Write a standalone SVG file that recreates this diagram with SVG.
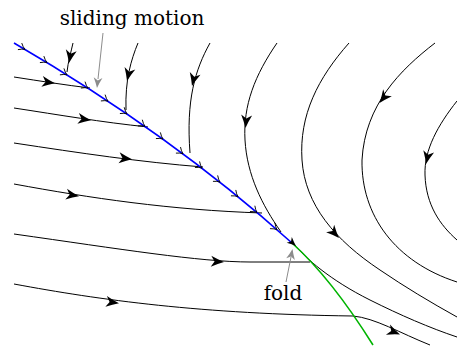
<svg xmlns="http://www.w3.org/2000/svg" width="457" height="349" viewBox="0 0 457 349">
<defs>
<path id="ah" d="M0,0 Q-6,-2 -13,-5.5 L-9.5,0 L-13,5.5 Q-6,2 0,0 Z"/>
<path id="sa" d="M-6,-3.8 Q-2.8,-0.9 0,0 Q-2.8,0.9 -6,3.8"/>
</defs>
<style>
.tr{fill:none;stroke:#000;stroke-width:1}
.sw{fill:none;stroke:#0000ff;stroke-width:1.6}
.gr{fill:none;stroke:#00b400;stroke-width:1.6}
.ptr{fill:none;stroke:#8c8c8c;stroke-width:1}
.ah{fill:#000}
.gah{fill:#8c8c8c}
.sa{fill:none;stroke:#000;stroke-width:0.85}
.lbl{font-family:"DejaVu Serif","Liberation Serif",serif;font-size:20px;fill:#000}
</style>
<rect width="457" height="349" fill="#fff"/>
<g id="connectors">
  <path class="tr" d="M14,77 C40,81 65,85 90,88"/>
  <path class="tr" d="M14,108 C60,115 100,122 148,127"/>
  <path class="tr" d="M14,143 C80,153 140,162 203,167"/>
  <path class="tr" d="M14,184 C90,198 170,210 262,213"/>
  <path class="tr" d="M14,234 C120,249 200,262 250,262 L310,262"/>
  <path class="tr" d="M14,284 C100,300 200,314 353,316 C375,318 400,333 430,345"/>
  <path class="tr" d="M73,43 C71,52 68,62 67,72"/>
  <path class="tr" d="M138,43 C131,60 125,80 126,110"/>
  <path class="tr" d="M210,43 C195,70 186,100 190,153"/>
  <path class="tr" d="M277,43 C255,75 243,105 245,140 C247,175 262,205 281,232"/>
  <path class="tr" d="M349,43 C318,78 299,115 302,160 C305,205 335,240 380,270 C405,287 430,302 457,317"/>
  <path class="tr" d="M435,43 C400,70 365,105 362,160 C361,215 395,262 457,282"/>
  <path class="tr" d="M457,101 C438,125 424,150 425,175 C426,205 440,225 457,240"/>
  <path class="tr" d="M293,243 C305,258 330,280 370,300 C400,315 430,328 457,337"/>
  <path class="sw" d="M14,43 C124,106.8 212,171 292,243"/>
  <path class="gr" d="M292,243 Q331.4,278.5 373,345"/>
  <use href="#sa" class="sa" transform="translate(25,49.4) rotate(30.5)"/>
  <use href="#sa" class="sa" transform="translate(47,62.5) rotate(31.5)"/>
  <use href="#sa" class="sa" transform="translate(67,74.8) rotate(32)"/>
  <use href="#sa" class="sa" transform="translate(88,88.1) rotate(33)"/>
  <use href="#sa" class="sa" transform="translate(108,101.1) rotate(33.7)"/>
  <use href="#sa" class="sa" transform="translate(127,113.8) rotate(34.5)"/>
  <use href="#sa" class="sa" transform="translate(145,126.3) rotate(35.3)"/>
  <use href="#sa" class="sa" transform="translate(163,139) rotate(36)"/>
  <use href="#sa" class="sa" transform="translate(183,153.7) rotate(37)"/>
  <use href="#sa" class="sa" transform="translate(202,168.1) rotate(37.7)"/>
  <use href="#sa" class="sa" transform="translate(220,182.1) rotate(38.5)"/>
  <use href="#sa" class="sa" transform="translate(238,196.7) rotate(39.5)"/>
  <use href="#sa" class="sa" transform="translate(257,212.5) rotate(40.2)"/>
  <use href="#sa" class="sa" transform="translate(277,229.7) rotate(41)"/>
  <use href="#ah" class="ah" transform="translate(55,83.2) rotate(8)"/>
  <use href="#ah" class="ah" transform="translate(91,120.2) rotate(8)"/>
  <use href="#ah" class="ah" transform="translate(132,159.2) rotate(6)"/>
  <use href="#ah" class="ah" transform="translate(79,196.2) rotate(9)"/>
  <use href="#ah" class="ah" transform="translate(224,262) rotate(3)"/>
  <use href="#ah" class="ah" transform="translate(119,303.2) rotate(8)"/>
  <use href="#ah" class="ah" transform="translate(400,334.5) rotate(22)"/>
  <use href="#ah" class="ah" transform="translate(69,63) rotate(100)"/>
  <use href="#ah" class="ah" transform="translate(127,81) rotate(103)"/>
  <use href="#ah" class="ah" transform="translate(192,86) rotate(104)"/>
  <use href="#ah" class="ah" transform="translate(245.5,128) rotate(95)"/>
  <use href="#ah" class="ah" transform="translate(339,238) rotate(47)"/>
  <use href="#ah" class="ah" transform="translate(379.5,103) rotate(128)"/>
  <use href="#ah" class="ah" transform="translate(426,164) rotate(102)"/>
  <use href="#ah" class="ah" transform="translate(296,246) rotate(42) scale(0.7)"/>
  <path class="ptr" d="M103,33 L98,79"/>
  <use href="#ah" class="gah" transform="translate(97,88) rotate(96) scale(0.8)"/>
  <path class="ptr" d="M286,282 L291,257"/>
  <use href="#ah" class="gah" transform="translate(292.5,249) rotate(-79) scale(0.8)"/>
</g>
<g id="label-sliding">
  <text class="lbl" x="132" y="25" text-anchor="middle">sliding motion</text>
</g>
<g id="label-fold">
  <text class="lbl" x="283" y="300" text-anchor="middle">fold</text>
</g>
</svg>
